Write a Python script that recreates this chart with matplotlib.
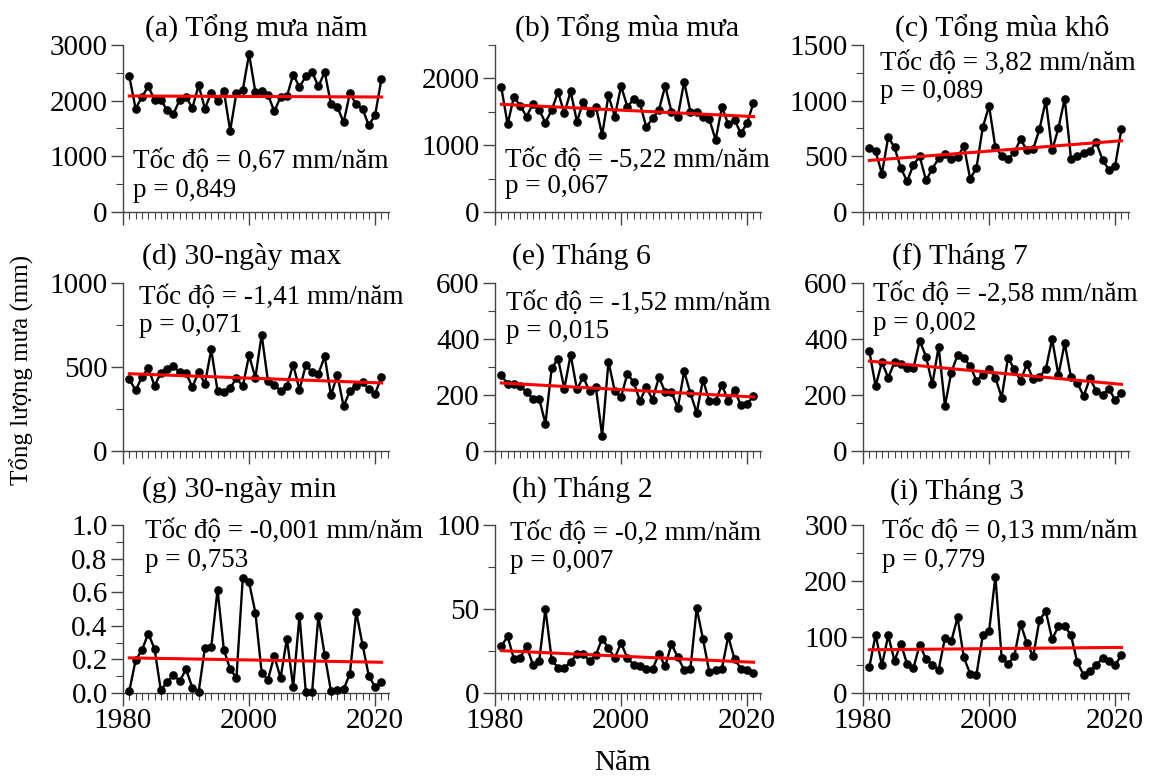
import numpy as np
import matplotlib
matplotlib.use("Agg")
import matplotlib.pyplot as plt
from matplotlib.ticker import MultipleLocator, FormatStrFormatter

plt.rcParams['font.family'] = ['Liberation Serif', 'DejaVu Serif']

years = list(range(1981, 2022))

tong_mua_nam = [2437, 1856, 2066, 2257, 2018, 2018, 1826, 1760, 2018, 2066,
                1868, 2275, 1856, 2144, 1994, 2174, 1461, 2144, 2192, 2838,
                2156, 2180, 2108, 1808, 2066, 2078, 2467, 2246, 2437, 2515,
                2257, 2515, 1934, 1892, 1611, 2132, 1934, 1850, 1557, 1743, 2389]
tong_mua_mua = [1866, 1313, 1726, 1592, 1428, 1617, 1527, 1338, 1527, 1796,
                1478, 1806, 1353, 1652, 1478, 1577, 1154, 1746, 1428, 1886,
                1577, 1687, 1627, 1269, 1403, 1527, 1886, 1502, 1428, 1950,
                1502, 1502, 1428, 1388, 1080, 1567, 1318, 1378, 1179, 1328, 1637]
tong_mua_kho = [574, 544, 344, 673, 580, 395, 275, 424, 499, 284,
                389, 481, 520, 478, 490, 595, 299, 395, 759, 953,
                580, 505, 475, 535, 655, 553, 565, 744, 1001, 553,
                753, 1019, 478, 499, 529, 550, 625, 469, 380, 415, 747]
max_30_ngay = [427, 361, 440, 494, 389, 464, 490, 504, 468, 464,
               381, 468, 401, 605, 357, 351, 375, 434, 385, 569,
               436, 692, 415, 395, 357, 387, 514, 365, 510, 470,
               460, 563, 331, 454, 266, 357, 387, 411, 367, 341, 440]
thang_6 = [270, 240, 240, 231, 211, 187, 187, 98, 296, 330,
           223, 344, 220, 264, 213, 228, 54, 319, 214, 193,
           276, 246, 179, 228, 183, 263, 211, 211, 154, 284,
           207, 136, 255, 177, 177, 237, 179, 219, 163, 169, 195]
thang_7 = [357, 232, 317, 262, 317, 310, 298, 295, 394, 337,
           238, 373, 161, 280, 343, 331, 304, 251, 271, 292,
           262, 191, 333, 292, 251, 310, 256, 265, 292, 400,
           271, 385, 263, 244, 196, 259, 215, 200, 223, 182, 208]
min_30_ngay = [0.012, 0.195, 0.254, 0.354, 0.264, 0.016, 0.066, 0.105, 0.072, 0.141,
               0.032, 0.006, 0.270, 0.274, 0.616, 0.258, 0.141, 0.091, 0.682, 0.658,
               0.479, 0.121, 0.080, 0.221, 0.089, 0.324, 0.036, 0.459, 0.006, 0.006,
               0.459, 0.225, 0.010, 0.016, 0.022, 0.115, 0.483, 0.288, 0.101, 0.036, 0.066]
thang_2 = [27.8, 33.7, 20.4, 20.8, 28.2, 16.9, 18.8, 50.0, 19.8, 14.9,
           14.9, 18.5, 23.2, 23.4, 18.8, 22.6, 32.3, 26.8, 20.8, 29.8,
           20.8, 16.9, 15.9, 14.5, 14.3, 23.2, 15.9, 29.2, 21.2, 13.9,
           14.5, 50.4, 32.1, 12.5, 13.9, 14.5, 33.7, 20.2, 14.5, 13.9, 11.9]
thang_3 = [45.8, 104.0, 49.3, 102.8, 57.6, 87.9, 51.7, 44.6, 86.2, 60.6,
           50.5, 41.6, 98.0, 92.1, 134.9, 63.6, 34.5, 32.7, 102.8, 109.9,
           208.0, 62.4, 52.3, 65.4, 123.6, 89.1, 65.4, 130.7, 145.6, 96.3,
           118.8, 120.0, 102.8, 54.7, 32.7, 39.8, 49.3, 62.4, 57.6, 49.3, 68.3]

titles = ["(a) Tổng mưa năm", "(b) Tổng mùa mưa", "(c) Tổng mùa khô",
          "(d) 30-ngày max", "(e) Tháng 6", "(f) Tháng 7",
          "(g) 30-ngày min", "(h) Tháng 2", "(i) Tháng 3"]
rates = ["0,67", "-5,22", "3,82", "-1,41", "-1,52", "-2,58", "-0,001", "-0,2", "0,13"]
pvals = ["0,849", "0,067", "0,089", "0,071", "0,015", "0,002", "0,753", "0,007", "0,779"]
trend_start = [2084, 1612, 463, 460, 243, 321, 0.209, 25.2, 77.2]
trend_end = [2066, 1428, 640, 405, 193, 238, 0.183, 18.3, 81.4]
ymax = [3000, 2500, 1500, 1000, 600, 600, 1.0, 100, 300]
ymajor = [1000, 1000, 500, 500, 200, 200, 0.2, 50, 100]
yminor = [500, 500, 250, 250, 100, 100, 0.1, 25, 50]
xticks = [1980, 2000, 2020]

series = [tong_mua_nam, tong_mua_mua, tong_mua_kho, max_30_ngay, thang_6, thang_7,
          min_30_ngay, thang_2, thang_3]

W, H = 1153, 776
fig = plt.figure(figsize=(W / 100, H / 100), dpi=100)

col_left = [123, 495, 863]
ax_w = 266
row_top = [45, 283, 525]
row_bot = [212, 451, 693]

# text positions (axes fraction): x, y of line 1, y of line 2
txt_pos = [(0.038, 0.30, 0.13), (0.038, 0.31, 0.15), (0.064, 0.89, 0.72),
           (0.060, 0.917, 0.75), (0.041, 0.88, 0.71), (0.038, 0.93, 0.76),
           (0.083, 0.96, 0.79), (0.056, 0.95, 0.78), (0.071, 0.96, 0.79)]
title_pos = [(145, 37), (515, 37), (895, 37), (142, 264), (512, 264), (892, 264),
             (142, 497), (512, 497), (890, 499)]

FS_TICK = 21
FS_TITLE = 21.5
FS_TXT = 19.5

for i in range(9):
    r, c = divmod(i, 3)
    left = col_left[c] / W
    bottom = 1 - row_bot[r] / H
    height = (row_bot[r] - row_top[r]) / H
    ax = fig.add_axes([left, bottom, ax_w / W, height])
    y = series[i]
    ax.plot(years, y, color='black', lw=1.7, marker='o', ms=5.2, clip_on=False, zorder=3)
    ax.plot([years[0], years[-1]], [trend_start[i], trend_end[i]], color='red', lw=2.2, zorder=4)
    ax.set_xlim(1980, 2022.2)
    ax.set_ylim(0, ymax[i])
    ax.yaxis.set_major_locator(MultipleLocator(ymajor[i]))
    ax.yaxis.set_minor_locator(MultipleLocator(yminor[i]))
    ax.set_xticks(xticks)
    ax.xaxis.set_minor_locator(MultipleLocator(1))
    if i == 6:
        ax.yaxis.set_major_formatter(FormatStrFormatter('%.1f'))
    for s in ['top', 'right']:
        ax.spines[s].set_visible(False)
    for s in ['left', 'bottom']:
        ax.spines[s].set_linewidth(1.0)
        ax.spines[s].set_color('#444444')
    ax.tick_params(axis='both', which='major', direction='out', length=9, width=1.0,
                   labelsize=FS_TICK, color='#444444', pad=2)
    ax.tick_params(axis='both', which='minor', direction='out', length=5, width=0.8,
                   color='#444444')
    if r < 2:
        ax.tick_params(axis='x', which='both', labelbottom=False)
    tx, ty1, ty2 = txt_pos[i]
    ax.text(tx, ty1, f"Tốc độ = {rates[i]} mm/năm", transform=ax.transAxes,
            fontsize=FS_TXT, ha='left', va='center', zorder=5)
    ax.text(tx, ty2, f"p = {pvals[i]}", transform=ax.transAxes,
            fontsize=FS_TXT, ha='left', va='center', zorder=5)
    px, py = title_pos[i]
    fig.text(px / W, 1 - py / H, titles[i], fontsize=FS_TITLE, ha='left', va='baseline')

fig.text(22 / W, 1 - 370 / H, "Tổng lượng mưa (mm)", rotation=90, fontsize=18,
         ha='center', va='center')
fig.text(622 / W, 1 - 770 / H, "Năm", fontsize=21, ha='center', va='baseline')

fig.savefig("out.png", dpi=100)
